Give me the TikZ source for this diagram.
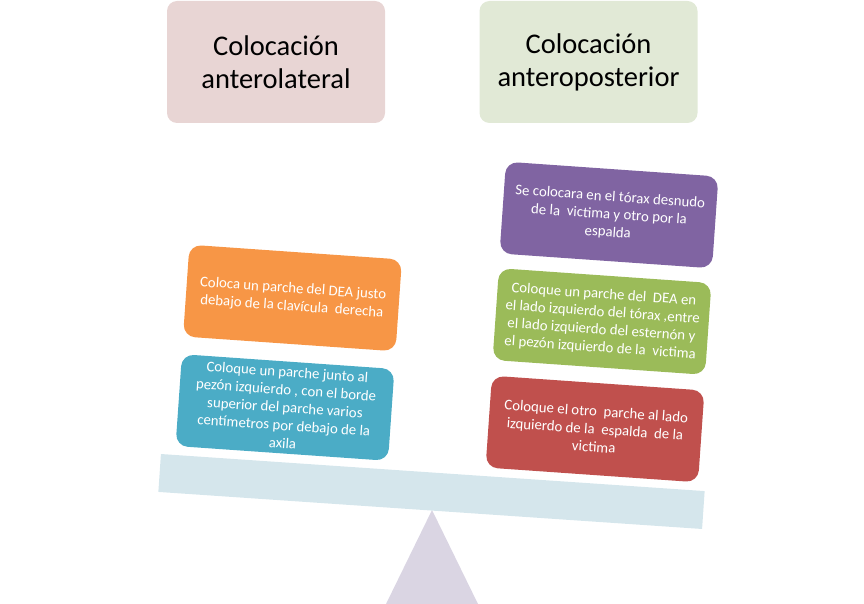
\documentclass[tikz,border=0pt]{standalone}
\usepackage{fontspec}
\setmainfont{Carlito}
\definecolor{cpink}{RGB}{232,213,212}
\definecolor{cgreenl}{RGB}{225,233,214}
\definecolor{corange}{RGB}{247,150,70}
\definecolor{cblue}{RGB}{75,172,198}
\definecolor{cpurple}{RGB}{128,100,162}
\definecolor{cgreen}{RGB}{155,187,89}
\definecolor{cred}{RGB}{192,80,77}
\definecolor{cbeam}{RGB}{213,230,236}
\definecolor{ctri}{RGB}{218,213,227}
\tikzset{
  titlebox/.style={rounded corners=10pt, minimum width=218pt, minimum height=122pt, align=center, font=\fontsize{28.5}{33}\selectfont, text=black},
  itembox/.style={rounded corners=12pt, minimum width=213pt, minimum height=92pt, align=center, font=\fontsize{14.8}{17.8}\selectfont, text=white, rotate=-4, inner sep=2pt}
}
\begin{document}
\begin{tikzpicture}[x=1pt,y=-1pt]
\useasboundingbox (0,0) rectangle (864,604);
% fulcrum
\fill[ctri] (432,510) -- (478,604) -- (386,604) -- cycle;
% beam
\node[fill=cbeam, minimum width=545pt, minimum height=38pt, rotate=-3.9, inner sep=0pt] (beam) at (431.5,491.5) {};
% titles
\node[titlebox, fill=cpink] (tl) at (276,62) {Colocación\\anterolateral};
\node[titlebox, fill=cgreenl] (tr) at (588.5,62) {Colocación\\anteroposterior};
% left items
\node[itembox, fill=corange] (l1) at (292.5,298) {Coloca un parche del DEA justo\\debajo de la clavícula \ derecha};
\node[itembox, fill=cblue] (l2) at (285,407.5) {Coloque un parche junto al\\pezón izquierdo , con el borde\\superior del parche varios\\centímetros por debajo de la\\axila};
% right items
\node[itembox, fill=cpurple] (r1) at (609,215) {Se colocara en el tórax desnudo\\de la \ victima y otro por la\\espalda};
\node[itembox, fill=cgreen] (r2) at (602,321.5) {Coloque un parche del \ DEA en\\el lado izquierdo del tórax ,entre\\el lado izquierdo del esternón y\\el pezón izquierdo de la \ victima};
\node[itembox, fill=cred] (r3) at (595,429) {Coloque el otro \ parche al lado\\izquierdo de la \ espalda \ de la\\victima};
\end{tikzpicture}
\end{document}
